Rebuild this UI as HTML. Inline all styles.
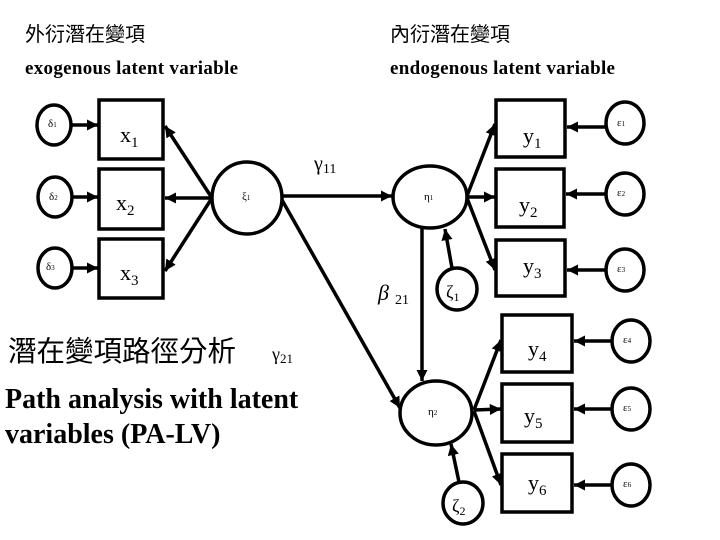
<!DOCTYPE html>
<html><head><meta charset="utf-8"><style>
html,body{margin:0;padding:0;background:#fff;}
svg{display:block;}
.s{font-family:"Liberation Serif",serif;}
.c{font-family:"Liberation Sans","Noto Sans CJK TC",sans-serif;}
</style></head><body>
<svg width="720" height="540" viewBox="0 0 720 540" xmlns="http://www.w3.org/2000/svg">
<defs>
<marker id="a" viewBox="0 0 10 10" refX="10" refY="5" markerWidth="3.2" markerHeight="3.2" orient="auto" markerUnits="strokeWidth">
<path d="M0,0 L10,5 L0,10 z" fill="#000"/></marker>
</defs>
<g class="c" font-size="20" fill="#000">
<text x="25" y="41">外衍潛在變項</text>
<text x="390" y="41">內衍潛在變項</text>
<text x="8" y="361" font-size="28.5">潛在變項路徑分析</text>
</g>
<g class="s" font-weight="bold" font-size="19" letter-spacing="0.3">
<text x="25" y="74">exogenous latent variable</text>
<text x="390" y="74">endogenous latent variable</text>
</g>
<g class="s" font-weight="bold" font-size="28">
<text x="5" y="408">Path analysis with latent</text>
<text x="5" y="443">variables (PA-LV)</text>
</g>
<g fill="none" stroke="#000" stroke-width="3.5">
<rect x="99" y="100" width="64" height="59"/>
<rect x="99" y="169" width="64" height="60"/>
<rect x="99" y="239" width="64" height="59"/>
<rect x="496" y="100" width="69" height="57"/>
<rect x="496" y="169" width="68" height="58"/>
<rect x="496" y="240" width="69" height="56"/>
<rect x="502" y="315" width="70" height="57"/>
<rect x="502" y="384" width="70" height="58"/>
<rect x="502" y="454" width="70" height="58"/>
<ellipse cx="54" cy="125" rx="17" ry="20"/>
<ellipse cx="55" cy="197" rx="17" ry="20"/>
<ellipse cx="55" cy="268" rx="17" ry="20"/>
<ellipse cx="247" cy="198" rx="35" ry="36"/>
<ellipse cx="430" cy="197" rx="37" ry="31"/>
<ellipse cx="436" cy="413" rx="36" ry="32"/>
<ellipse cx="457" cy="289" rx="20" ry="21"/>
<ellipse cx="463" cy="503" rx="20" ry="21"/>
<ellipse cx="625" cy="123" rx="19" ry="21"/>
<ellipse cx="625" cy="194" rx="19" ry="21"/>
<ellipse cx="625" cy="270" rx="19" ry="21"/>
<ellipse cx="631" cy="341" rx="19" ry="21"/>
<ellipse cx="631" cy="409" rx="19" ry="21"/>
<ellipse cx="631" cy="485" rx="19" ry="21"/>
</g>
<g stroke="#000" stroke-width="3.5" marker-end="url(#a)">
<line x1="72" y1="125" x2="98" y2="125"/>
<line x1="72" y1="197" x2="98" y2="197"/>
<line x1="72" y1="268" x2="98" y2="268"/>
<line x1="212" y1="198" x2="165" y2="126"/>
<line x1="212" y1="198" x2="165" y2="198"/>
<line x1="212" y1="198" x2="165" y2="271"/>
<line x1="282" y1="196" x2="392" y2="196"/>
<line x1="282" y1="200" x2="400" y2="408"/>
<line x1="422" y1="227" x2="422" y2="381"/>
<line x1="452" y1="268" x2="445" y2="229"/>
<line x1="459" y1="482" x2="451" y2="444"/>
<line x1="467" y1="196" x2="495" y2="124"/>
<line x1="467" y1="197" x2="495" y2="197"/>
<line x1="467" y1="198" x2="495" y2="270"/>
<line x1="474" y1="410" x2="501" y2="340"/>
<line x1="474" y1="410" x2="501" y2="409"/>
<line x1="474" y1="411" x2="501" y2="485"/>
<line x1="606" y1="127" x2="567" y2="127"/>
<line x1="606" y1="194" x2="566" y2="194"/>
<line x1="606" y1="270" x2="567" y2="270"/>
<line x1="612" y1="341" x2="574" y2="341"/>
<line x1="612" y1="409" x2="574" y2="409"/>
<line x1="612" y1="485" x2="574" y2="485"/>
</g>
<g class="s" fill="#000">
<text x="120" y="142" font-size="22">x<tspan font-size="15" dy="5">1</tspan></text>
<text x="116" y="210" font-size="22">x<tspan font-size="15" dy="5">2</tspan></text>
<text x="120" y="280" font-size="22">x<tspan font-size="15" dy="5">3</tspan></text>
<text x="523" y="143" font-size="22">y<tspan font-size="15" dy="5">1</tspan></text>
<text x="519" y="212" font-size="22">y<tspan font-size="15" dy="5">2</tspan></text>
<text x="523" y="273" font-size="22">y<tspan font-size="15" dy="5">3</tspan></text>
<text x="528" y="356" font-size="22">y<tspan font-size="15" dy="5">4</tspan></text>
<text x="524" y="423" font-size="22">y<tspan font-size="15" dy="5">5</tspan></text>
<text x="528" y="490" font-size="22">y<tspan font-size="15" dy="5">6</tspan></text>
<text x="314" y="170" font-size="20">γ<tspan font-size="14" dy="3">11</tspan></text>
<text x="272" y="360" font-size="18">γ<tspan font-size="13" dy="3">21</tspan></text>
<text x="378" y="300" font-size="22" font-style="italic">β<tspan font-size="14" font-style="normal" dx="6" dy="4">21</tspan></text>
<text x="446" y="298" font-size="18">ζ<tspan font-size="12" dy="3">1</tspan></text>
<text x="452" y="512" font-size="18">ζ<tspan font-size="12" dy="3">2</tspan></text>
<g font-size="11">
<text x="48" y="127">δ<tspan font-size="7">1</tspan></text>
<text x="49" y="200">δ<tspan font-size="7">2</tspan></text>
<text x="46" y="270">δ<tspan font-size="7">3</tspan></text>
<text x="242" y="200">ξ<tspan font-size="7">1</tspan></text>
<text x="424" y="200">η<tspan font-size="7">1</tspan></text>
<text x="428" y="415">η<tspan font-size="7">2</tspan></text>
<text x="617" y="126">ε<tspan font-size="7">1</tspan></text>
<text x="617" y="196">ε<tspan font-size="7">2</tspan></text>
<text x="617" y="272">ε<tspan font-size="7">3</tspan></text>
<text x="623" y="343">ε<tspan font-size="7">4</tspan></text>
<text x="623" y="411">ε<tspan font-size="7">5</tspan></text>
<text x="623" y="487">ε<tspan font-size="7">6</tspan></text>
</g>
</g>
</svg>
</body></html>
